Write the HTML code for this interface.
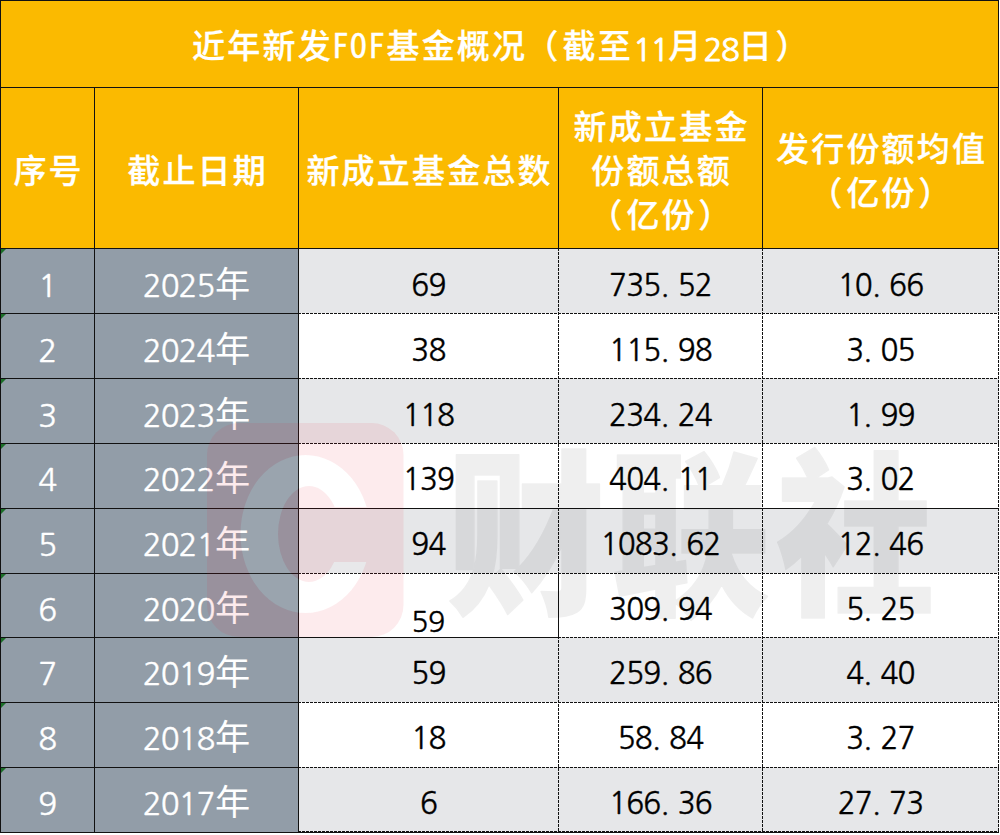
<!DOCTYPE html>
<html lang="zh-CN">
<head>
<meta charset="utf-8">
<title>近年新发FOF基金概况</title>
<style>
*{margin:0;padding:0;box-sizing:border-box}
html,body{width:1000px;height:835px;background:#fff;overflow:hidden}
body{position:relative;font-family:"Liberation Sans","Noto Sans CJK SC",sans-serif}
.c{position:absolute;display:flex;align-items:center;justify-content:center;text-align:center;
  font-family:"Noto Sans CJK SC","Liberation Sans",sans-serif;font-size:33px;letter-spacing:2.2px;line-height:46px;white-space:nowrap;padding-top:6px}
.n{font-family:"NanumGothic","Liberation Sans",sans-serif;font-size:31.2px;letter-spacing:-1.25px;-webkit-text-stroke:0.4px currentColor}
.e .n,.w .n{font-size:29.6px;letter-spacing:-0.8px}
.h .n{position:relative;top:3.4px;-webkit-text-stroke:0.9px currentColor}
.h{-webkit-text-stroke:0.3px currentColor}
.po{position:relative;left:-2px}.pc{position:relative;left:1.5px}
.e .n i,.w .n i{width:17.14px}
.n{font-weight:400}
.n i{font-style:normal;display:inline-block;width:17.6px;text-align:left;letter-spacing:0}
.h{background:#fbba00;color:#fff;font-weight:500;padding-top:2px;padding-left:2.2px;line-height:44px}
.g .n{letter-spacing:-0.95px;margin-right:0.6px}
.l{font-family:"Noto Sans CJK SC",sans-serif;font-feature-settings:"hwid" 1;font-size:33.4px;letter-spacing:1.5px;font-weight:400;margin-left:-1px}
.g{background:#929da8;color:#fff;font-size:35.2px;letter-spacing:0}
.e{background:#e6e7e9;color:#000}
.w{background:#fff;color:#000}
.odd{font-family:"NanumGothic","Liberation Sans",sans-serif;font-size:28px;line-height:30px;letter-spacing:-0.5px;align-items:flex-end;padding:0 1px 1px 0;font-size:28.5px;-webkit-text-stroke:0.3px currentColor}
.ln{position:absolute;background:#111}
.dh{position:absolute;height:1px;background:repeating-linear-gradient(90deg,#111 0 3px,transparent 3px 4px)}
.dv{position:absolute;width:1px;background:repeating-linear-gradient(180deg,#111 0 3px,transparent 3px 4px)}
.wm{position:absolute;left:0;top:0;pointer-events:none}
.tri{position:absolute;left:1px;width:0;height:0;border-top:5px solid #1b6e28;border-right:5px solid transparent}
</style>
</head>
<body>
<div class="c h" style="left:0px;top:0px;width:999px;height:88px;"><p>近年新发<span class="l">FOF</span>基金概况<span class="po">（</span>截至<span class="n">11</span>月<span class="n">28</span>日<span class="pc">）</span></p></div>
<div class="c h" style="left:0px;top:87px;width:95px;height:162px;"><p>序号</p></div>
<div class="c h" style="left:94px;top:87px;width:205px;height:162px;"><p>截止日期</p></div>
<div class="c h" style="left:298px;top:87px;width:261px;height:162px;"><p>新成立基金总数</p></div>
<div class="c h" style="left:558px;top:87px;width:205px;height:162px;"><p>新成立基金<br>份额总额<br><span class="po">（</span>亿份<span class="pc">）</span></p></div>
<div class="c h" style="left:762px;top:87px;width:237px;height:162px;"><p>发行份额均值<br><span class="po">（</span>亿份<span class="pc">）</span></p></div>
<div class="c g" style="left:0px;top:248px;width:95px;height:66px;"><p><span class="n">1</span></p></div>
<div class="c g" style="left:94px;top:248px;width:205px;height:66px;"><p><span class="n">2025</span>年</p></div>
<div class="c e" style="left:298px;top:248px;width:261px;height:66px;"><p><span class="n">69</span></p></div>
<div class="c e" style="left:558px;top:248px;width:205px;height:66px;"><p><span class="n">735<i>.</i>52</span></p></div>
<div class="c e" style="left:762px;top:248px;width:237px;height:66px;"><p><span class="n">10<i>.</i>66</span></p></div>
<div class="c g" style="left:0px;top:313px;width:95px;height:66px;"><p><span class="n">2</span></p></div>
<div class="c g" style="left:94px;top:313px;width:205px;height:66px;"><p><span class="n">2024</span>年</p></div>
<div class="c w" style="left:298px;top:313px;width:261px;height:66px;"><p><span class="n">38</span></p></div>
<div class="c w" style="left:558px;top:313px;width:205px;height:66px;"><p><span class="n">115<i>.</i>98</span></p></div>
<div class="c w" style="left:762px;top:313px;width:237px;height:66px;"><p><span class="n">3<i>.</i>05</span></p></div>
<div class="c g" style="left:0px;top:378px;width:95px;height:66px;"><p><span class="n">3</span></p></div>
<div class="c g" style="left:94px;top:378px;width:205px;height:66px;"><p><span class="n">2023</span>年</p></div>
<div class="c e" style="left:298px;top:378px;width:261px;height:66px;"><p><span class="n">118</span></p></div>
<div class="c e" style="left:558px;top:378px;width:205px;height:66px;"><p><span class="n">234<i>.</i>24</span></p></div>
<div class="c e" style="left:762px;top:378px;width:237px;height:66px;"><p><span class="n">1<i>.</i>99</span></p></div>
<div class="c g" style="left:0px;top:443px;width:95px;height:66px;padding-top:4px"><p><span class="n">4</span></p></div>
<div class="c g" style="left:94px;top:443px;width:205px;height:66px;padding-top:4px"><p><span class="n">2022</span>年</p></div>
<div class="c w" style="left:298px;top:443px;width:261px;height:66px;padding-top:4px"><p><span class="n">139</span></p></div>
<div class="c w" style="left:558px;top:443px;width:205px;height:66px;padding-top:4px"><p><span class="n">404<i>.</i>11</span></p></div>
<div class="c w" style="left:762px;top:443px;width:237px;height:66px;padding-top:4px"><p><span class="n">3<i>.</i>02</span></p></div>
<div class="c g" style="left:0px;top:508px;width:95px;height:66px;padding-top:4px"><p><span class="n">5</span></p></div>
<div class="c g" style="left:94px;top:508px;width:205px;height:66px;padding-top:4px"><p><span class="n">2021</span>年</p></div>
<div class="c e" style="left:298px;top:508px;width:261px;height:66px;padding-top:4px"><p><span class="n">94</span></p></div>
<div class="c e" style="left:558px;top:508px;width:205px;height:66px;padding-top:4px"><p><span class="n">1083<i>.</i>62</span></p></div>
<div class="c e" style="left:762px;top:508px;width:237px;height:66px;padding-top:4px"><p><span class="n">12<i>.</i>46</span></p></div>
<div class="c g" style="left:0px;top:573px;width:95px;height:65px;padding-top:4px"><p><span class="n">6</span></p></div>
<div class="c g" style="left:94px;top:573px;width:205px;height:65px;padding-top:4px"><p><span class="n">2020</span>年</p></div>
<div class="c w odd" style="left:298px;top:573px;width:261px;height:65px;"><p>59</p></div>
<div class="c w" style="left:558px;top:573px;width:205px;height:65px;padding-top:4px"><p><span class="n">309<i>.</i>94</span></p></div>
<div class="c w" style="left:762px;top:573px;width:237px;height:65px;padding-top:4px"><p><span class="n">5<i>.</i>25</span></p></div>
<div class="c g" style="left:0px;top:637px;width:95px;height:66px;padding-top:4px"><p><span class="n">7</span></p></div>
<div class="c g" style="left:94px;top:637px;width:205px;height:66px;padding-top:4px"><p><span class="n">2019</span>年</p></div>
<div class="c e" style="left:298px;top:637px;width:261px;height:66px;padding-top:4px"><p><span class="n">59</span></p></div>
<div class="c e" style="left:558px;top:637px;width:205px;height:66px;padding-top:4px"><p><span class="n">259<i>.</i>86</span></p></div>
<div class="c e" style="left:762px;top:637px;width:237px;height:66px;padding-top:4px"><p><span class="n">4<i>.</i>40</span></p></div>
<div class="c g" style="left:0px;top:702px;width:95px;height:66px;padding-top:4px"><p><span class="n">8</span></p></div>
<div class="c g" style="left:94px;top:702px;width:205px;height:66px;padding-top:4px"><p><span class="n">2018</span>年</p></div>
<div class="c w" style="left:298px;top:702px;width:261px;height:66px;padding-top:4px"><p><span class="n">18</span></p></div>
<div class="c w" style="left:558px;top:702px;width:205px;height:66px;padding-top:4px"><p><span class="n">58<i>.</i>84</span></p></div>
<div class="c w" style="left:762px;top:702px;width:237px;height:66px;padding-top:4px"><p><span class="n">3<i>.</i>27</span></p></div>
<div class="c g" style="left:0px;top:767px;width:95px;height:66px;padding-top:4px"><p><span class="n">9</span></p></div>
<div class="c g" style="left:94px;top:767px;width:205px;height:66px;padding-top:4px"><p><span class="n">2017</span>年</p></div>
<div class="c e" style="left:298px;top:767px;width:261px;height:66px;padding-top:4px"><p><span class="n">6</span></p></div>
<div class="c e" style="left:558px;top:767px;width:205px;height:66px;padding-top:4px"><p><span class="n">166<i>.</i>36</span></p></div>
<div class="c e" style="left:762px;top:767px;width:237px;height:66px;padding-top:4px"><p><span class="n">27<i>.</i>73</span></p></div>
<div class="ln" style="left:0px;top:0px;width:999px;height:1px"></div>
<div class="ln" style="left:0px;top:87px;width:999px;height:1px"></div>
<div class="ln" style="left:0px;top:248px;width:999px;height:1px"></div>
<div class="ln" style="left:0px;top:0px;width:1px;height:833px"></div>
<div class="ln" style="left:998px;top:0px;width:1px;height:249px"></div>
<div class="ln" style="left:94px;top:87px;width:1px;height:162px"></div>
<div class="ln" style="left:298px;top:87px;width:1px;height:162px"></div>
<div class="ln" style="left:558px;top:87px;width:1px;height:162px"></div>
<div class="ln" style="left:762px;top:87px;width:1px;height:162px"></div>
<div class="ln" style="left:94px;top:248px;width:1px;height:585px"></div>
<div class="ln" style="left:298px;top:248px;width:1px;height:585px"></div>
<div class="ln" style="left:0px;top:313px;width:299px;height:1px"></div>
<div class="ln" style="left:0px;top:378px;width:299px;height:1px"></div>
<div class="ln" style="left:0px;top:443px;width:299px;height:1px"></div>
<div class="ln" style="left:0px;top:508px;width:299px;height:1px"></div>
<div class="ln" style="left:0px;top:573px;width:299px;height:1px"></div>
<div class="ln" style="left:0px;top:637px;width:299px;height:1px"></div>
<div class="ln" style="left:0px;top:702px;width:299px;height:1px"></div>
<div class="ln" style="left:0px;top:767px;width:299px;height:1px"></div>
<div class="ln" style="left:0px;top:832px;width:299px;height:1px"></div>
<div class="dh" style="left:298px;top:313px;width:701px"></div>
<div class="dh" style="left:298px;top:378px;width:701px"></div>
<div class="dh" style="left:298px;top:443px;width:701px"></div>
<div class="ln" style="left:298px;top:508px;width:701px;height:1px"></div>
<div class="dh" style="left:298px;top:573px;width:701px"></div>
<div class="ln" style="left:298px;top:637px;width:261px;height:1px"></div>
<div class="dh" style="left:558px;top:637px;width:441px"></div>
<div class="dh" style="left:298px;top:702px;width:701px"></div>
<div class="dh" style="left:298px;top:767px;width:701px"></div>
<div class="ln" style="left:298px;top:832px;width:701px;height:1px"></div>
<div class="dh" style="left:298px;top:831px;width:701px"></div>
<div class="dv" style="left:558px;top:248px;height:585px"></div>
<div class="dv" style="left:762px;top:248px;height:585px"></div>
<div class="dv" style="left:998px;top:248px;height:585px"></div>
<div class="ln" style="left:558px;top:573px;width:1px;height:65px"></div>
<div class="tri" style="top:249px"></div>
<div class="tri" style="top:314px"></div>
<div class="tri" style="top:379px"></div>
<div class="tri" style="top:444px"></div>
<div class="tri" style="top:509px"></div>
<div class="tri" style="top:574px"></div>
<div class="tri" style="top:638px"></div>
<div class="tri" style="top:703px"></div>
<div class="tri" style="top:768px"></div>
<svg class="wm" width="1000" height="835" viewBox="0 0 1000 835">
<defs>
<clipPath id="cg"><path clip-rule="evenodd" d="M200 415H420V650H200Z M309 507H380V562H309Z"/></clipPath>
<mask id="mk"><rect x="200" y="415" width="220" height="235" fill="#fff"/><path d="M240.5 534A65 79 0 1 0 370.5 534A65 79 0 1 0 240.5 534ZM278 534A31 48 0 1 0 340 534A31 48 0 1 0 278 534Z" fill="#000" fill-rule="evenodd" clip-path="url(#cg)"/></mask>
</defs>
<rect x="207" y="423" width="196.5" height="214" rx="32" fill="#e61e32" fill-opacity="0.09" mask="url(#mk)"/>
<path d="M240.5 534A65 79 0 1 0 370.5 534A65 79 0 1 0 240.5 534ZM278 534A31 48 0 1 0 340 534A31 48 0 1 0 278 534Z" fill="#fff" fill-opacity="0.08" fill-rule="evenodd" clip-path="url(#cg)"/>
<g opacity="0.06" transform="translate(446.8 601) scale(1 1.124)"><text x="0" y="0" font-family="'Noto Sans CJK SC','Liberation Sans',sans-serif" font-weight="900" font-size="158" letter-spacing="6.75" fill="#000" stroke="#000" stroke-width="1.5" stroke-linejoin="round">财联社</text></g>
</svg>
</body>
</html>
